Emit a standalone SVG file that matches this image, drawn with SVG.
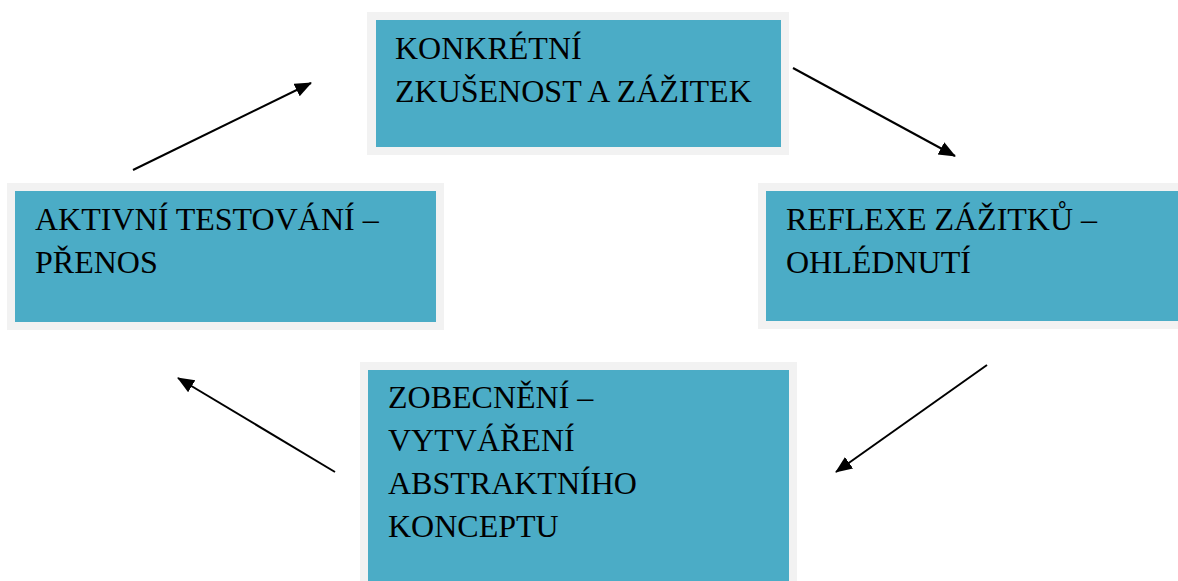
<svg xmlns="http://www.w3.org/2000/svg" width="1178" height="581" viewBox="0 0 1178 581">
  <style>
    .frame { fill: #F2F2F2; }
    .box { fill: #4BACC6; }
    .label { font-family: "Liberation Serif", "Times New Roman", serif; font-size: 32px; fill: #000; }
    .conn { stroke: #000; stroke-width: 2; fill: none; marker-end: url(#arrow); }
  </style>
  <defs>
    <marker id="arrow" markerUnits="userSpaceOnUse" markerWidth="18" markerHeight="15" refX="16" refY="7" orient="auto">
      <path d="M0,0 L17,7 L0,14 z" fill="#000"/>
    </marker>
  </defs>
  <rect width="1178" height="581" fill="#fff"/>

  <g id="node-konkretni">
    <rect class="frame" x="367" y="12" width="422" height="143"/>
    <rect class="box" x="376" y="20" width="405" height="127"/>
    <text class="label" x="395" y="59">KONKRÉTNÍ</text>
    <text class="label" x="395" y="102">ZKUŠENOST A ZÁŽITEK</text>
  </g>

  <g id="node-reflexe">
    <rect class="frame" x="758" y="183" width="430" height="146"/>
    <rect class="box" x="766" y="191" width="420" height="130"/>
    <text class="label" x="786" y="230">REFLEXE ZÁŽITKŮ –</text>
    <text class="label" x="786" y="273">OHLÉDNUTÍ</text>
  </g>

  <g id="node-aktivni">
    <rect class="frame" x="7" y="183" width="437" height="147"/>
    <rect class="box" x="15" y="191" width="421" height="131"/>
    <text class="label" x="35" y="230">AKTIVNÍ TESTOVÁNÍ –</text>
    <text class="label" x="35" y="273">PŘENOS</text>
  </g>

  <g id="node-zobecneni">
    <rect class="frame" x="360" y="362" width="437" height="230"/>
    <rect class="box" x="368" y="370" width="421" height="220"/>
    <text class="label" x="388" y="408">ZOBECNĚNÍ –</text>
    <text class="label" x="388" y="451">VYTVÁŘENÍ</text>
    <text class="label" x="388" y="494">ABSTRAKTNÍHO</text>
    <text class="label" x="388" y="537">KONCEPTU</text>
  </g>

  <g id="connectors">
    <line class="conn" x1="793" y1="68" x2="955" y2="156"/>
    <line class="conn" x1="987" y1="365" x2="836" y2="472"/>
    <line class="conn" x1="335" y1="472" x2="178" y2="378"/>
    <line class="conn" x1="133" y1="170" x2="311" y2="83"/>
  </g>
</svg>
